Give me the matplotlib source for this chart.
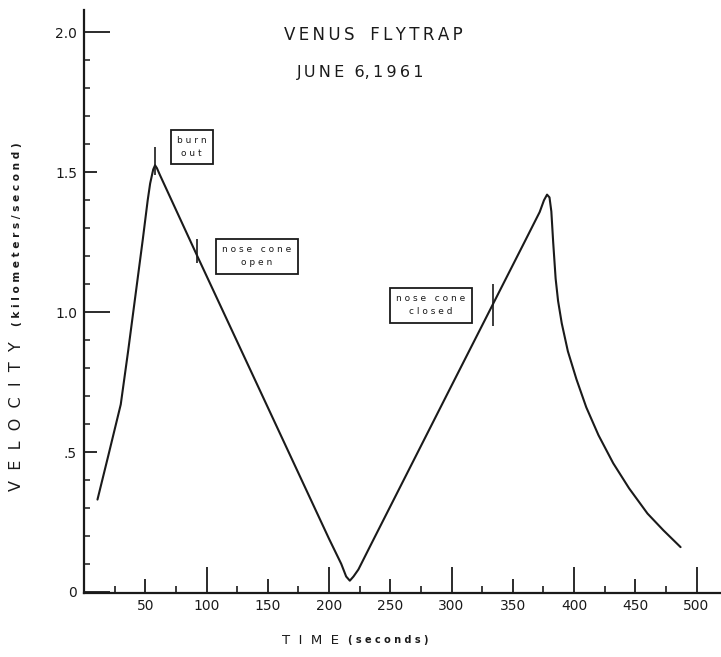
import matplotlib
matplotlib.use('Agg')
import matplotlib.pyplot as plt
import numpy as np

# curve
time_s = [11, 20, 30, 36, 42, 48, 52, 54, 56.5, 58, 59.5, 62, 92, 150, 200,
          210, 214, 217, 220, 224, 234, 300, 334, 360, 372, 375.5, 378, 380,
          381.5, 383, 385, 387, 390, 395, 402, 410, 420, 432, 445, 460, 473, 487]
velocity_kms = [0.33, 0.49, 0.67, 0.86, 1.06, 1.26, 1.40, 1.46, 1.51, 1.525, 1.515,
                1.49, 1.205, 0.66, 0.19, 0.10, 0.055, 0.04, 0.055, 0.08, 0.167,
                0.737, 1.03, 1.254, 1.358, 1.40, 1.42, 1.41, 1.36, 1.25, 1.12,
                1.04, 0.96, 0.86, 0.76, 0.66, 0.56, 0.46, 0.37, 0.28, 0.22, 0.16]

# event markers: time, low, high
event_t = [58, 92, 334]
event_lo = [1.49, 1.175, 0.95]
event_hi = [1.59, 1.26, 1.10]

# annotation boxes
note_text = ['b u r n\no u t', 'n o s e   c o n e\no p e n', 'n o s e   c o n e\nc l o s e d']
note_t = [88, 141, 283]
note_v = [1.59, 1.20, 1.025]

x_major = [50, 100, 150, 200, 250, 300, 350, 400, 450, 500]
x_labels = ['50', '100', '150', '200', '250', '300', '350', '400', '450', '500']
x_minor = [25, 75, 125, 175, 225, 275, 325, 375, 425, 475]
y_major = [0, 0.5, 1.0, 1.5, 2.0]
y_labels = ['0', '.5', '1.0', '1.5', '2.0']
y_minor = [0.1, 0.2, 0.3, 0.4, 0.6, 0.7, 0.8, 0.9,
           1.1, 1.2, 1.3, 1.4, 1.6, 1.7, 1.8, 1.9]

ink = '#1a1a1a'
sp = '\u2009'


def spaced(s):
    return sp.join(s)


fig = plt.figure(figsize=(7.21, 6.57), dpi=100)
ax = fig.add_axes([84 / 721, 64 / 657, 637 / 721, 583 / 657])

ax.plot(time_s, velocity_kms, color=ink, lw=1.5, solid_capstyle='round')
ax.vlines(event_t, event_lo, event_hi, color=ink, lw=1.2)

for txt, t, v in zip(note_text, note_t, note_v):
    ax.text(t, v, txt, ha='center', va='center', fontsize=6.5, color=ink,
            linespacing=1.6,
            bbox=dict(boxstyle='square,pad=0.7', fc='white', ec=ink, lw=1.3))

ax.set_xlim(0, 520)
ax.set_ylim(-0.004, 2.08)

for side in ['top', 'right']:
    ax.spines[side].set_visible(False)
for side in ['left', 'bottom']:
    ax.spines[side].set_linewidth(1.6)
    ax.spines[side].set_color(ink)

ax.set_xticks(x_major)
ax.set_xticklabels(x_labels)
ax.set_xticks(x_minor, minor=True)
ax.set_yticks(y_major)
ax.set_yticklabels(y_labels)
ax.set_yticks(y_minor, minor=True)

ax.tick_params(axis='both', which='both', direction='in', color=ink)
ax.tick_params(axis='x', which='major', length=10, width=1.3, pad=4,
               labelsize=10, labelcolor=ink)
ax.tick_params(axis='x', which='minor', length=5, width=1.2)
ax.tick_params(axis='y', which='major', length=9, width=1.3, pad=5,
               labelsize=10, labelcolor=ink)
ax.tick_params(axis='y', which='minor', length=4, width=1.1)

# hundreds on x and whole numbers on y get the long ticks
for val, tick in zip(x_major, ax.xaxis.get_major_ticks()):
    if val % 100 == 0:
        tick.tick1line.set_markersize(18.5)
for val, tick in zip(y_major, ax.yaxis.get_major_ticks()):
    if val in (0, 1.0, 2.0):
        tick.tick1line.set_markersize(18.5)

fig.text(373 / 721, 1 - 35 / 657, spaced('VENUS') + '   ' + spaced('FLYTRAP'),
         ha='center', va='center', fontsize=12, color=ink)
fig.text(361 / 721, 1 - 73 / 657, spaced('JUNE') + '  6,' + sp + spaced('1961'),
         ha='center', va='center', fontsize=11.5, color=ink)

# axis titles: big spaced capitals, small bold lower case
fig.text(310 / 721, 1 - 640 / 657, 'T  I  M  E', ha='center', va='center',
         fontsize=9.5, color=ink)
fig.text(388 / 721, 1 - 640 / 657, '( s e c o n d s )', ha='center', va='center',
         fontsize=7, fontweight='bold', color=ink)
fig.text(17 / 721, 1 - 416 / 657, 'V  E  L  O  C  I  T  Y', ha='center', va='center',
         rotation=90, fontsize=11.5, color=ink)
fig.text(17 / 721, 1 - 234 / 657, '( k i l o m e t e r s / s e c o n d )',
         ha='center', va='center', rotation=90, fontsize=7.6, fontweight='bold',
         color=ink)

fig.savefig('out.png', dpi=100, facecolor='white')
